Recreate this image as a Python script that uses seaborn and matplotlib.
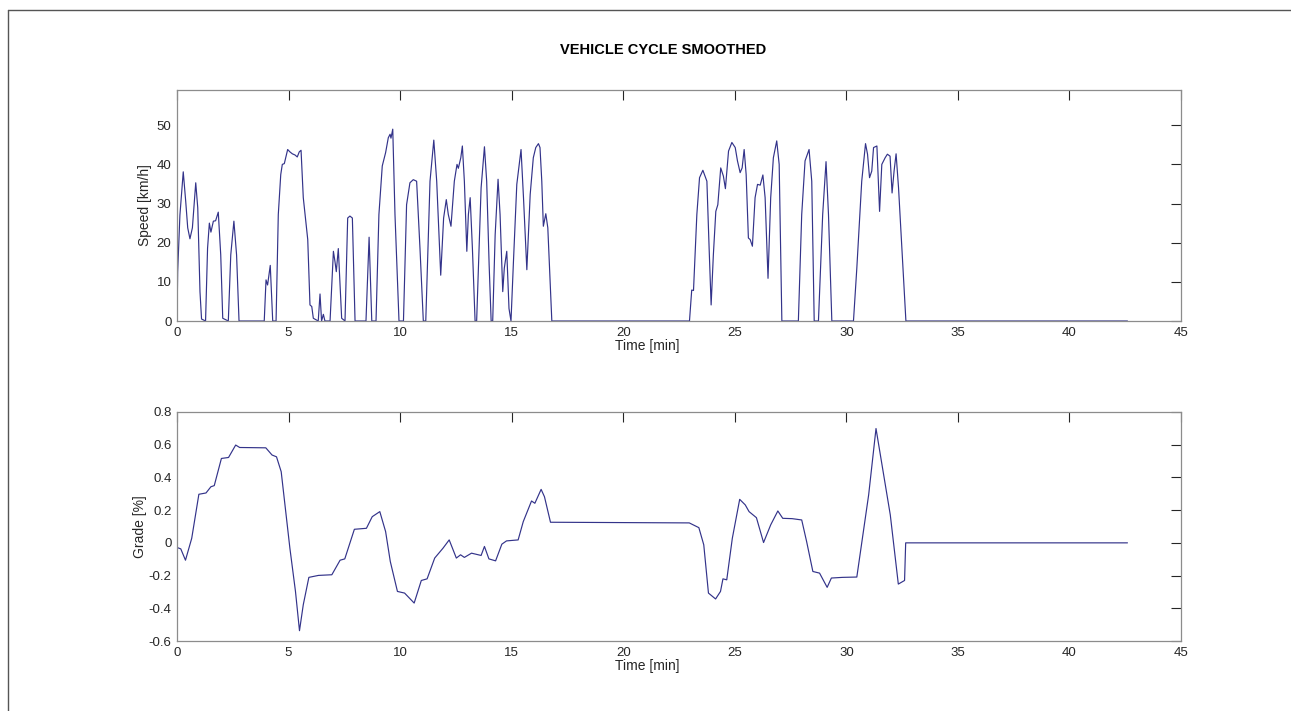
import numpy as np
import pandas as pd
import matplotlib
matplotlib.use("Agg")
import matplotlib.pyplot as plt
from matplotlib.lines import Line2D
import seaborn as sns

# ---- Speed trace (time in min, speed in km/h) ----
speed_t = [0.0, 0.03, 0.13, 0.28, 0.39, 0.48, 0.58, 0.69, 0.84, 0.93, 1.03, 1.1, 1.28,
           1.37, 1.45, 1.52, 1.63, 1.73, 1.85, 1.96, 2.05, 2.3, 2.41, 2.55, 2.67, 2.78,
           3.91, 3.99, 4.06, 4.18, 4.29, 4.44, 4.54, 4.65, 4.72, 4.81, 4.96, 5.06, 5.17,
           5.29, 5.39, 5.48, 5.56, 5.66, 5.86, 5.96, 6.04, 6.11, 6.33, 6.41, 6.48, 6.56,
           6.63, 6.86, 7.01, 7.08, 7.14, 7.23, 7.38, 7.53, 7.65, 7.75, 7.86, 7.98, 8.47,
           8.61, 8.73, 8.92, 9.05, 9.2, 9.35, 9.47, 9.55, 9.59, 9.67, 9.77, 9.95, 10.15,
           10.29, 10.44, 10.59, 10.74, 10.89, 11.04, 11.15, 11.34, 11.51, 11.64, 11.82,
           11.95, 12.07, 12.16, 12.28, 12.43, 12.55, 12.61, 12.72, 12.79, 12.88, 12.99,
           13.06, 13.14, 13.24, 13.36, 13.43, 13.63, 13.78, 13.88, 13.99, 14.08, 14.15,
           14.26, 14.39, 14.48, 14.6, 14.67, 14.78, 14.88, 14.97, 15.08, 15.23, 15.42,
           15.53, 15.68, 15.83, 15.97, 16.08, 16.2, 16.27, 16.35, 16.42, 16.53, 16.62,
           16.69, 16.8, 22.97, 23.07, 23.15, 23.3, 23.42, 23.57, 23.75, 23.85, 23.94,
           24.04, 24.15, 24.24, 24.37, 24.49, 24.58, 24.72, 24.87, 25.02, 25.12, 25.24,
           25.33, 25.42, 25.51, 25.61, 25.69, 25.79, 25.91, 26.02, 26.14, 26.26, 26.36,
           26.49, 26.61, 26.73, 26.88, 26.99, 27.11, 27.85, 28.0, 28.15, 28.33, 28.45,
           28.56, 28.75, 28.94, 29.09, 29.2, 29.35, 30.32, 30.47, 30.69, 30.86, 30.95,
           31.04, 31.14, 31.22, 31.37, 31.49, 31.59, 31.74, 31.84, 31.96, 32.05, 32.14,
           32.23, 32.34, 32.49, 32.67, 42.6]
speed_v = [0.0, 12.6, 27.0, 38.1, 30.6, 23.8, 21.0, 23.8, 35.3, 28.9, 7.5, 0.5, 0.0,
           18.6, 25.0, 22.7, 25.5, 25.6, 27.8, 16.9, 0.7, 0.0, 16.9, 25.5, 16.9, 0.0,
           0.0, 10.5, 9.2, 14.2, 0.0, 0.0, 27.2, 37.4, 40.0, 40.2, 43.8, 43.2, 42.7,
           42.4, 41.9, 43.2, 43.6, 31.5, 20.8, 4.1, 3.7, 0.7, 0.0, 6.9, 0.0, 1.7,
           0.0, 0.0, 17.8, 15.2, 12.6, 18.5, 0.7, 0.0, 26.3, 26.8, 26.3, 0.0, 0.0,
           21.4, 0.0, 0.0, 27.2, 39.6, 43.0, 46.8, 47.7, 46.7, 49.0, 27.2, 0.0, 0.0,
           29.7, 35.3, 36.1, 35.7, 18.6, 0.0, 0.0, 35.7, 46.2, 35.7, 11.7,
           26.3, 31.0, 27.2, 24.2, 35.7, 40.0, 39.0, 41.7, 44.7, 35.7, 17.8,
           27.2, 31.5, 18.6, 0.0, 0.0, 34.0, 44.5, 35.7, 14.4, 0.0, 0.0,
           22.0, 36.2, 27.2, 7.5, 13.5, 17.8, 3.2, 0.0, 15.2, 34.9, 43.8,
           31.5, 13.1, 32.3, 41.7, 44.3, 45.3, 44.3, 35.7, 24.2, 27.4, 23.8,
           14.4, 0.0, 0.0, 7.9, 7.8, 27.2, 36.6, 38.5, 35.7, 18.6, 4.1,
           16.9, 28.0, 29.7, 39.1, 37.0, 33.8, 43.4, 45.6, 44.3, 40.9, 37.9,
           39.1, 43.8, 37.4, 21.2, 20.8, 19.1, 31.5, 34.9, 34.7, 37.3, 31.5,
           10.9, 31.5, 41.7, 46.0, 40.0, 0.0, 0.0, 27.2, 40.9, 43.8, 35.7,
           0.0, 0.0, 27.2, 40.7, 27.2, 0.0, 0.0, 13.5, 35.7, 45.3, 42.6,
           36.6, 38.3, 44.3, 44.7, 28.0, 40.0, 41.7, 42.6, 42.1, 32.7, 38.3,
           42.7, 34.0, 18.6, 0.0, 0.0]

# ---- Grade trace (time in min, grade in %) ----
grade_t = [0.0, 0.17, 0.38, 0.66, 0.98, 1.3, 1.52, 1.67, 1.99, 2.31, 2.63, 2.81, 3.98,
           4.26, 4.46, 4.67, 5.06, 5.31, 5.49, 5.66, 5.91, 6.34, 6.94, 7.31, 7.52, 7.95,
           8.49, 8.75, 9.09, 9.35, 9.56, 9.88, 10.2, 10.63, 10.95, 11.21, 11.55, 11.92,
           12.2, 12.52, 12.71, 12.88, 13.2, 13.63, 13.78, 13.98, 14.28, 14.56, 14.77,
           15.29, 15.52, 15.89, 16.04, 16.32, 16.47, 16.74, 22.96, 23.39, 23.61, 23.82,
           24.14, 24.36, 24.47, 24.64, 24.89, 25.22, 25.47, 25.64, 25.97, 26.29, 26.61,
           26.93, 27.15, 27.57, 28.0, 28.22, 28.5, 28.8, 29.14, 29.33, 29.83, 30.47,
           31.0, 31.33, 31.65, 31.97, 32.33, 32.61, 32.66, 42.6]
grade_v = [-0.028, -0.037, -0.106, 0.028, 0.297, 0.305, 0.343, 0.35, 0.516, 0.522, 0.598,
           0.583, 0.581, 0.537, 0.526, 0.435, -0.033, -0.297, -0.537, -0.378, -0.211,
           -0.199, -0.195, -0.106, -0.098, 0.083, 0.089, 0.16, 0.191, 0.069, -0.114,
           -0.297, -0.307, -0.368, -0.23, -0.22, -0.093, -0.033, 0.018, -0.093, -0.073,
           -0.089, -0.063, -0.077, -0.022, -0.098, -0.11, -0.008, 0.012, 0.018, 0.13,
           0.256, 0.242, 0.327, 0.282, 0.126, 0.122, 0.093, -0.012, -0.307, -0.343,
           -0.297, -0.22, -0.226, 0.028, 0.266, 0.232, 0.191, 0.154, 0.002, 0.11,
           0.195, 0.15, 0.148, 0.14, 0.008, -0.175, -0.185, -0.272, -0.215, -0.211,
           -0.209, 0.293, 0.699, 0.435, 0.171, -0.252, -0.23, 0.0, 0.0]

x_ticks = [0, 5, 10, 15, 20, 25, 30, 35, 40, 45]
speed_ticks = [0, 10, 20, 30, 40, 50]
grade_ticks = [-0.6, -0.4, -0.2, 0, 0.2, 0.4, 0.6, 0.8]

title_text = "VEHICLE CYCLE SMOOTHED"

sns.set_style("white")
plt.rcParams["font.family"] = ["Liberation Sans", "DejaVu Sans"]

W, H = 1291, 711
fig = plt.figure(figsize=(W / 100, H / 100), dpi=100)
fig.patch.set_facecolor("white")

line_color = "#33338a"

ax1 = fig.add_axes([177 / W, 1 - 321 / H, (1181 - 177) / W, (321 - 90) / H])
ax2 = fig.add_axes([177 / W, 1 - 641 / H, (1181 - 177) / W, (641 - 412) / H])

df_s = pd.DataFrame({"t": speed_t, "v": speed_v})
df_g = pd.DataFrame({"t": grade_t, "v": grade_v})

sns.lineplot(data=df_s, x="t", y="v", ax=ax1, sort=False, estimator=None,
             color=line_color, linewidth=0.85)
sns.lineplot(data=df_g, x="t", y="v", ax=ax2, sort=False, estimator=None,
             color=line_color, linewidth=0.85)

ax1.set_xlim(0, 45)
ax1.set_ylim(0, 59)
ax1.set_yticks(speed_ticks)
ax1.set_ylabel("Speed [km/h]", fontsize=10, color="#262626")
ax1.yaxis.set_label_coords(-0.025, 0.5)

ax2.set_xlim(0, 45)
ax2.set_ylim(-0.6, 0.8)
ax2.set_yticks(grade_ticks)
ax2.set_yticklabels([f"{v:.1f}" if v != 0 else "0" for v in grade_ticks])
ax2.set_ylabel("Grade [%]", fontsize=10, color="#262626")
ax2.yaxis.set_label_coords(-0.030, 0.5)

for ax in (ax1, ax2):
    ax.set_xticks(x_ticks)
    ax.set_xlabel("Time [min]", fontsize=10, color="#262626")
    ax.xaxis.set_label_coords(0.468, -0.08)
    ax.tick_params(direction="in", length=7, width=0.8, top=True, right=True,
                   labelsize=9.5, colors="#262626", pad=4)
    for sp in ax.spines.values():
        sp.set_visible(True)
        sp.set_color("#8c8c8c")
        sp.set_linewidth(0.9)
    ax.grid(False)

fig.text(663 / W, 1 - 50 / H, title_text, ha="center", va="center",
         fontsize=10.5, fontweight="bold", color="black")

# outer frame lines (top and left)
fig.add_artist(Line2D([8 / W, 1.0], [1 - 10 / H, 1 - 10 / H], transform=fig.transFigure,
                      color="#555555", linewidth=1.0))
fig.add_artist(Line2D([8 / W, 8 / W], [0.0, 1 - 10 / H], transform=fig.transFigure,
                      color="#555555", linewidth=1.0))

fig.savefig("out.png", dpi=100)
